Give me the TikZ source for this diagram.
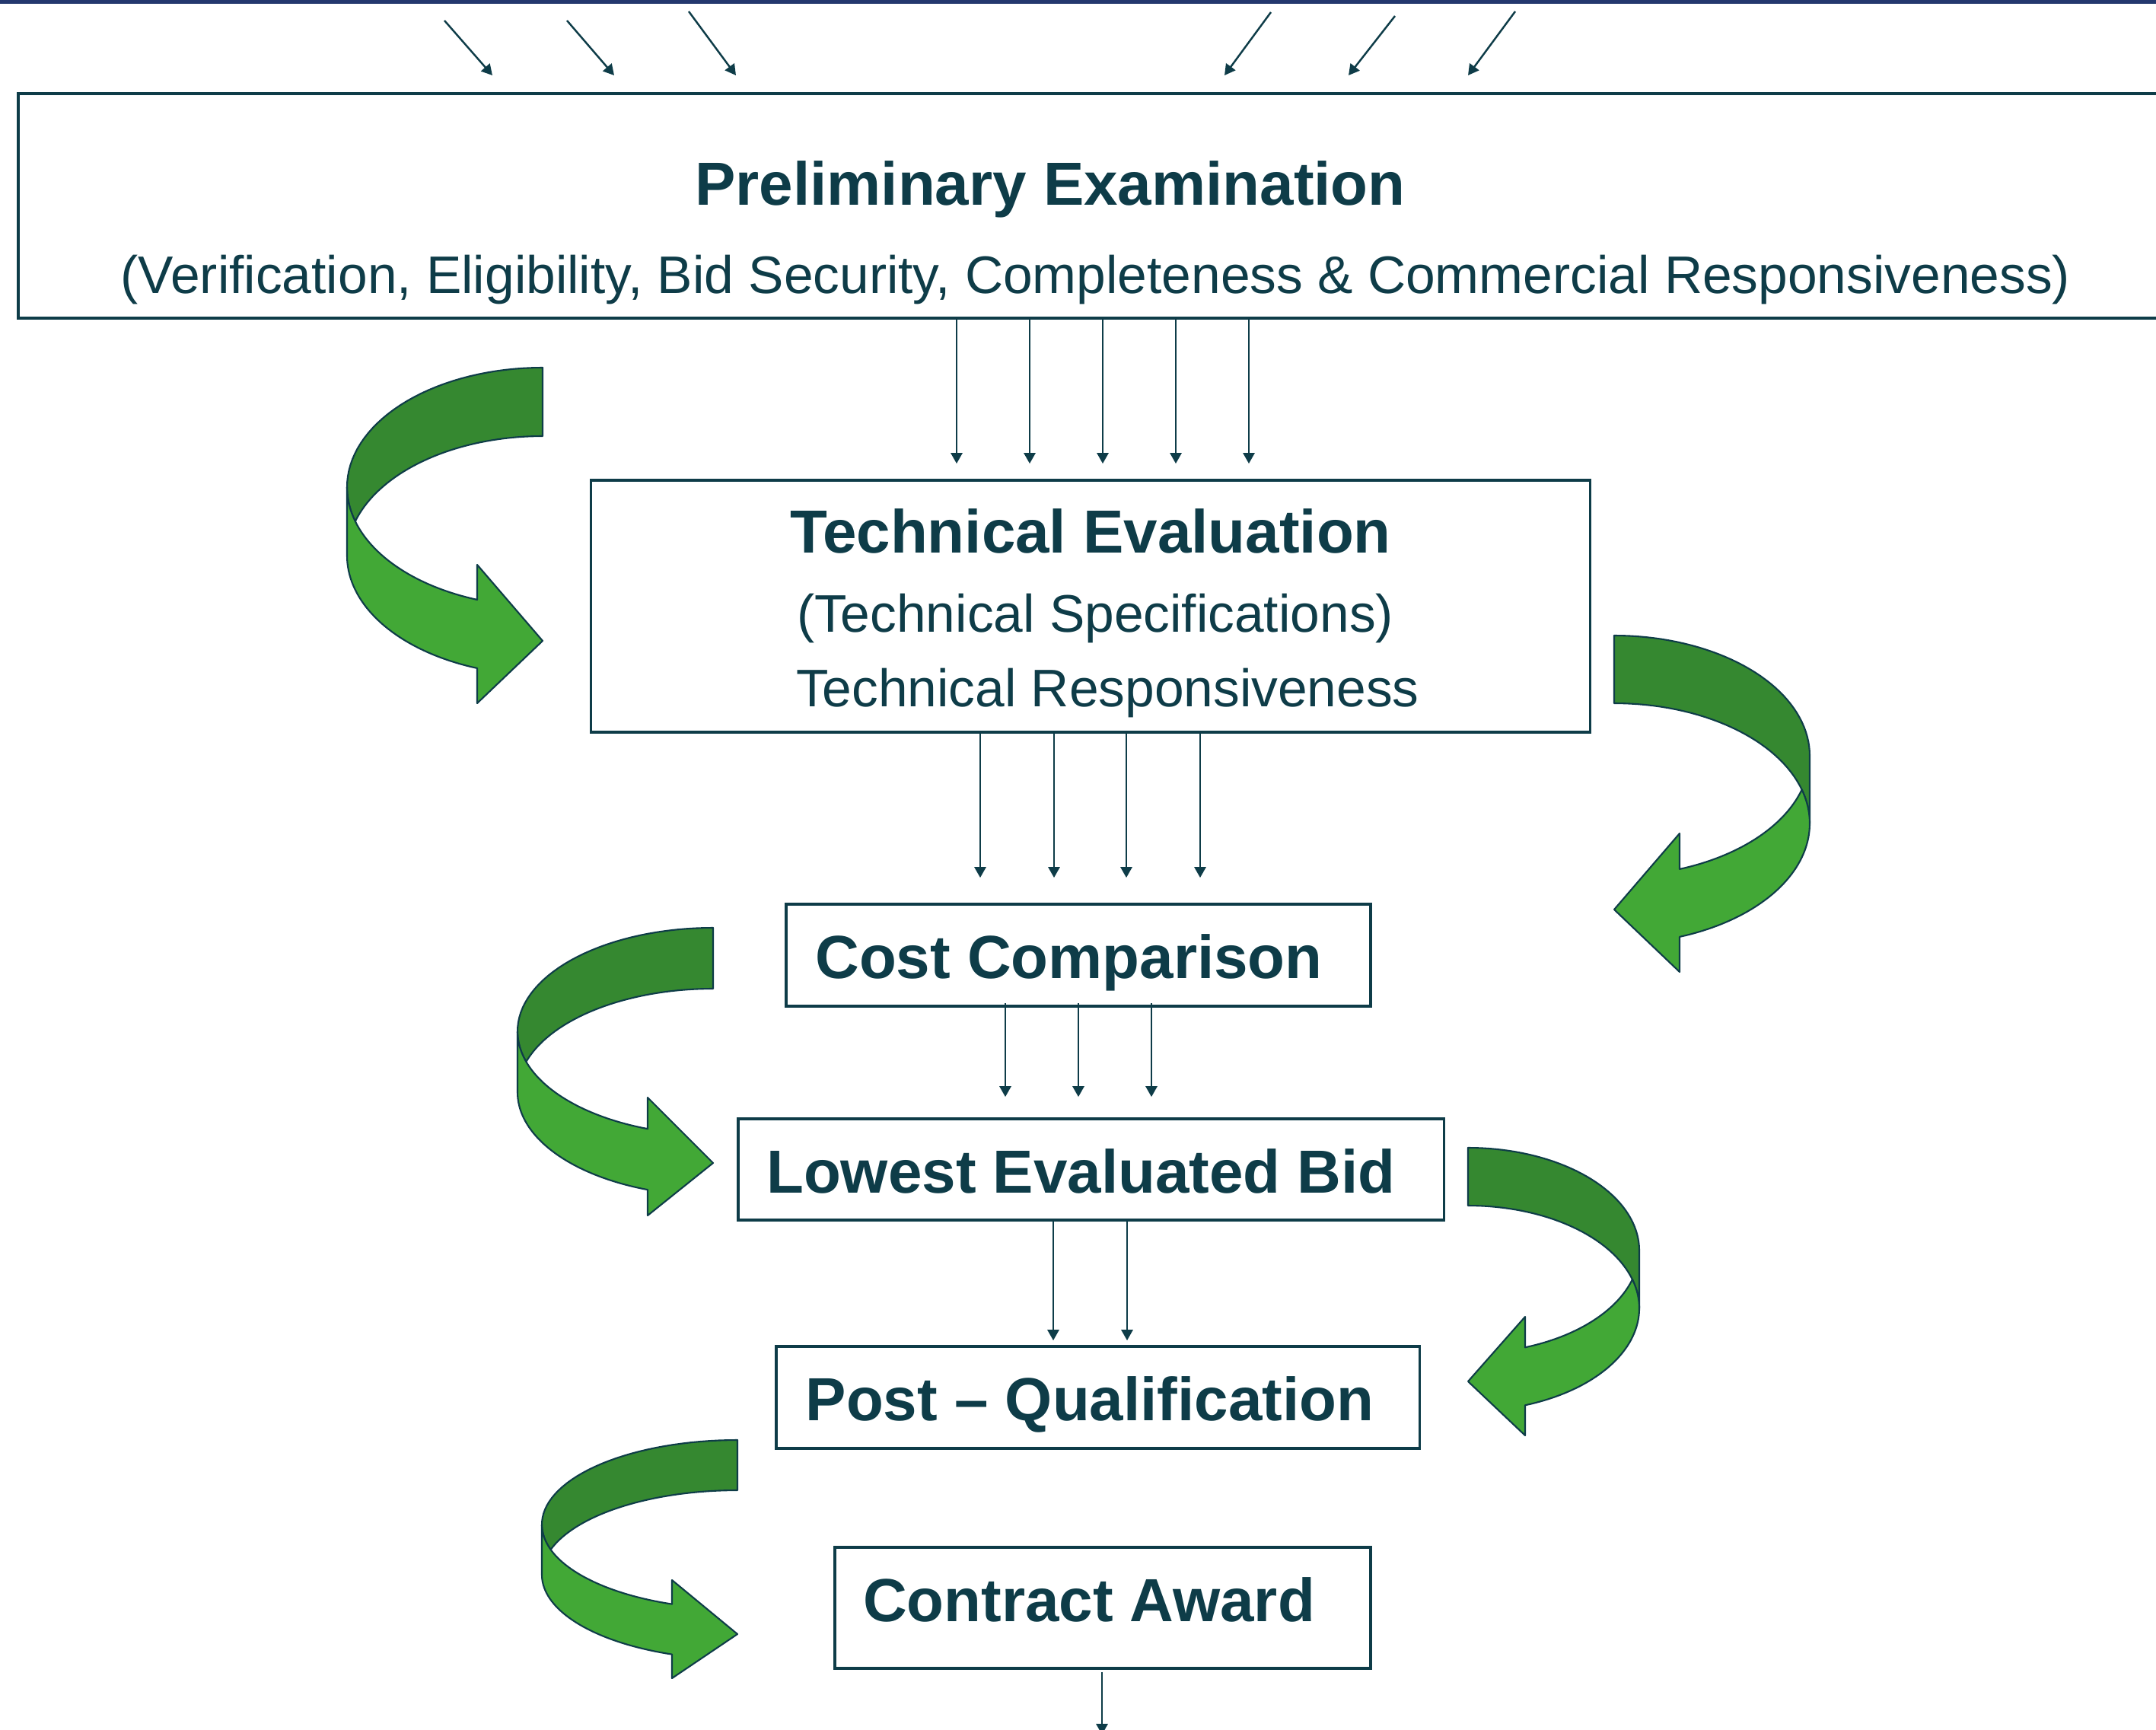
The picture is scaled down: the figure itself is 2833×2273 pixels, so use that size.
\documentclass[tikz,border=0pt]{standalone}
\usepackage{fontspec}
\setmainfont{Liberation Sans}
\usetikzlibrary{arrows.meta}
\definecolor{ink}{RGB}{14,60,72}
\definecolor{navy}{RGB}{36,56,110}
\definecolor{gdark}{RGB}{53,136,48}
\definecolor{glight}{RGB}{66,168,54}
% ribbon arrow, loop on the right side of local origin (flat end at origin)
% #1 rx, #2 ry, #3 band thickness, #4 head base offset, #5 top corner, #6 bottom corner, #7 tip
\newcommand\ribbonR[7]{%
 \pgfmathsetmacro\rti{asin(#3/(2*#2))}%
 \pgfmathsetmacro\rtb{acos(#4/#1)}%
 \filldraw[rib, fill=gdark] (0,0) -- plot[domain=90:0] ({#1*cos(\x)},{#2-#2*sin(\x)})
   -- plot[domain=0:90] ({#1*cos(\x)},{#2+#3-#2*sin(\x)}) -- cycle;
 \filldraw[rib, fill=glight] plot[domain=0:\rti] ({#1*cos(\x)},{#2+#3-#2*sin(\x)})
   -- plot[domain=-\rti:-\rtb] ({#1*cos(\x)},{#2-#2*sin(\x)})
   -- (#4,#5) -- (0,#7) -- (#4,#6)
   -- plot[domain=-\rtb:0] ({#1*cos(\x)},{#2+#3-#2*sin(\x)}) -- cycle;
}
\newcommand\ribbonL[7]{%
 \pgfmathsetmacro\rti{asin(#3/(2*#2))}%
 \pgfmathsetmacro\rtb{acos(#4/#1)}%
 \filldraw[rib, fill=gdark] (0,0) -- plot[domain=90:-\rti] ({#1*cos(\x)},{#2-#2*sin(\x)})
   -- plot[domain=\rti:90] ({#1*cos(\x)},{#2+#3-#2*sin(\x)}) -- cycle;
 \filldraw[rib, fill=glight] plot[domain=0:-\rtb] ({#1*cos(\x)},{#2-#2*sin(\x)})
   -- (#4,#5) -- (0,#7) -- (#4,#6)
   -- plot[domain=-\rtb:0] ({#1*cos(\x)},{#2+#3-#2*sin(\x)}) -- cycle;
}
\begin{document}
\begin{tikzpicture}[x=0.01cm, y=-0.01cm,
  stagebox/.style={draw=ink, line width=1pt, inner sep=0pt},
  thinarrow/.style={draw=ink, line width=0.7pt, -{Triangle[length=4pt,width=4.3pt]}},
  rib/.style={draw=ink, line width=0.6pt, samples=40, line join=round},
  headtext/.style={anchor=base, text=ink, inner sep=0pt, font=\fontsize{22.74pt}{27pt}\selectfont\bfseries},
  subtext/.style={anchor=base, text=ink, inner sep=0pt, font=\fontsize{19.76pt}{23pt}\selectfont}]
\useasboundingbox (0,0) rectangle (2833,2273);
\clip (0,0) rectangle (2833,2273);
\fill[white] (0,0) rectangle (2833,2273);
\fill[navy] (0,0) rectangle (2833,5);

% boxes
\node[stagebox, minimum width=28.75cm, minimum height=2.95cm] (pe) at (1462.5,270.5) {};
\node[stagebox, minimum width=13.12cm, minimum height=3.31cm] (te) at (1433,796.5) {};
\node[stagebox, minimum width=7.68cm, minimum height=1.34cm] (cc) at (1417,1255) {};
\node[stagebox, minimum width=9.27cm, minimum height=1.33cm] (leb) at (1433.5,1536.5) {};
\node[stagebox, minimum width=8.45cm, minimum height=1.34cm] (pq) at (1442.5,1836) {};
\node[stagebox, minimum width=7.04cm, minimum height=1.59cm] (ca) at (1449,2112.5) {};

% texts
\node[headtext] (pe-a) at (1380,270) {Preliminary Examination};
\node[subtext] (pe-b) at (1439.5,386) {(Verification, Eligibility, Bid Security, Completeness \& Commercial Responsiveness)};
\node[headtext] (te-a) at (1433,726) {Technical Evaluation};
\node[subtext] (te-b) at (1439,830) {(Technical Specifications)};
\node[subtext] (te-c) at (1455.5,928) {Technical Responsiveness};
\node[headtext] (cc-a) at (1404.5,1285) {Cost Comparison};
\node[headtext] (leb-a) at (1420.5,1567) {Lowest Evaluated Bid};
\node[headtext] (pq-a) at (1432,1866) {Post – Qualification};
\node[headtext] (ca-a) at (1431,2130) {Contract Award};

% top incoming arrows
\coordinate (d1s) at (584,27);  \coordinate (d1e) at (647,99);
\coordinate (d2s) at (745,27);  \coordinate (d2e) at (807,99);
\coordinate (d3s) at (905,15);  \coordinate (d3e) at (967,99);
\coordinate (d4s) at (1670,16); \coordinate (d4e) at (1609,99);
\coordinate (d5s) at (1833,21); \coordinate (d5e) at (1772,99);
\coordinate (d6s) at (1991,15); \coordinate (d6e) at (1929,99);
\foreach \i in {1,...,6} \draw[thinarrow] (d\i s) -- (d\i e);

% vertical arrow columns
\coordinate (a1) at (1257,0); \coordinate (a2) at (1353,0); \coordinate (a3) at (1449,0);
\coordinate (a4) at (1545,0); \coordinate (a5) at (1641,0);
\foreach \i in {1,...,5} \draw[thinarrow, shorten >=0.2cm] (pe.south -| a\i) -- (te.north -| a\i);
\coordinate (b1) at (1288,0); \coordinate (b2) at (1385,0); \coordinate (b3) at (1480,0); \coordinate (b4) at (1577,0);
\foreach \i in {1,...,4} \draw[thinarrow, shorten >=0.33cm] (te.south -| b\i) -- (cc.north -| b\i);
\coordinate (c1) at (1321,0); \coordinate (c2) at (1417,0); \coordinate (c3) at (1513,0);
\foreach \i in {1,...,3} \draw[thinarrow, shorten >=0.27cm, shorten <=-0.06cm] (cc.south -| c\i) -- (leb.north -| c\i);
\coordinate (e1) at (1384,0); \coordinate (e2) at (1481,0);
\foreach \i in {1,2} \draw[thinarrow, shorten >=0.06cm] (leb.south -| e\i) -- (pq.north -| e\i);
\coordinate (cend) at (1448,2279);
\draw[thinarrow, shorten <=0.03cm] (ca.south -| cend) -- (cend);

% green ribbon arrows
\begin{scope}[shift={(713,483)}, xscale=-1]
  \ribbonL{257}{157}{90}{86}{259}{441}{359}
\end{scope}
\begin{scope}[shift={(2121,835)}]
  \ribbonR{257}{158}{89}{86}{260}{442}{360}
\end{scope}
\begin{scope}[shift={(937,1219)}, xscale=-1]
  \ribbonL{257}{136}{80}{86}{223}{378}{309}
\end{scope}
\begin{scope}[shift={(1929,1508)}]
  \ribbonR{225}{135}{76}{75}{222}{378}{307}
\end{scope}
\begin{scope}[shift={(969,1892)}, xscale=-1]
  \ribbonL{257}{111}{66}{86}{184}{313}{255}
\end{scope}
\end{tikzpicture}
\end{document}
